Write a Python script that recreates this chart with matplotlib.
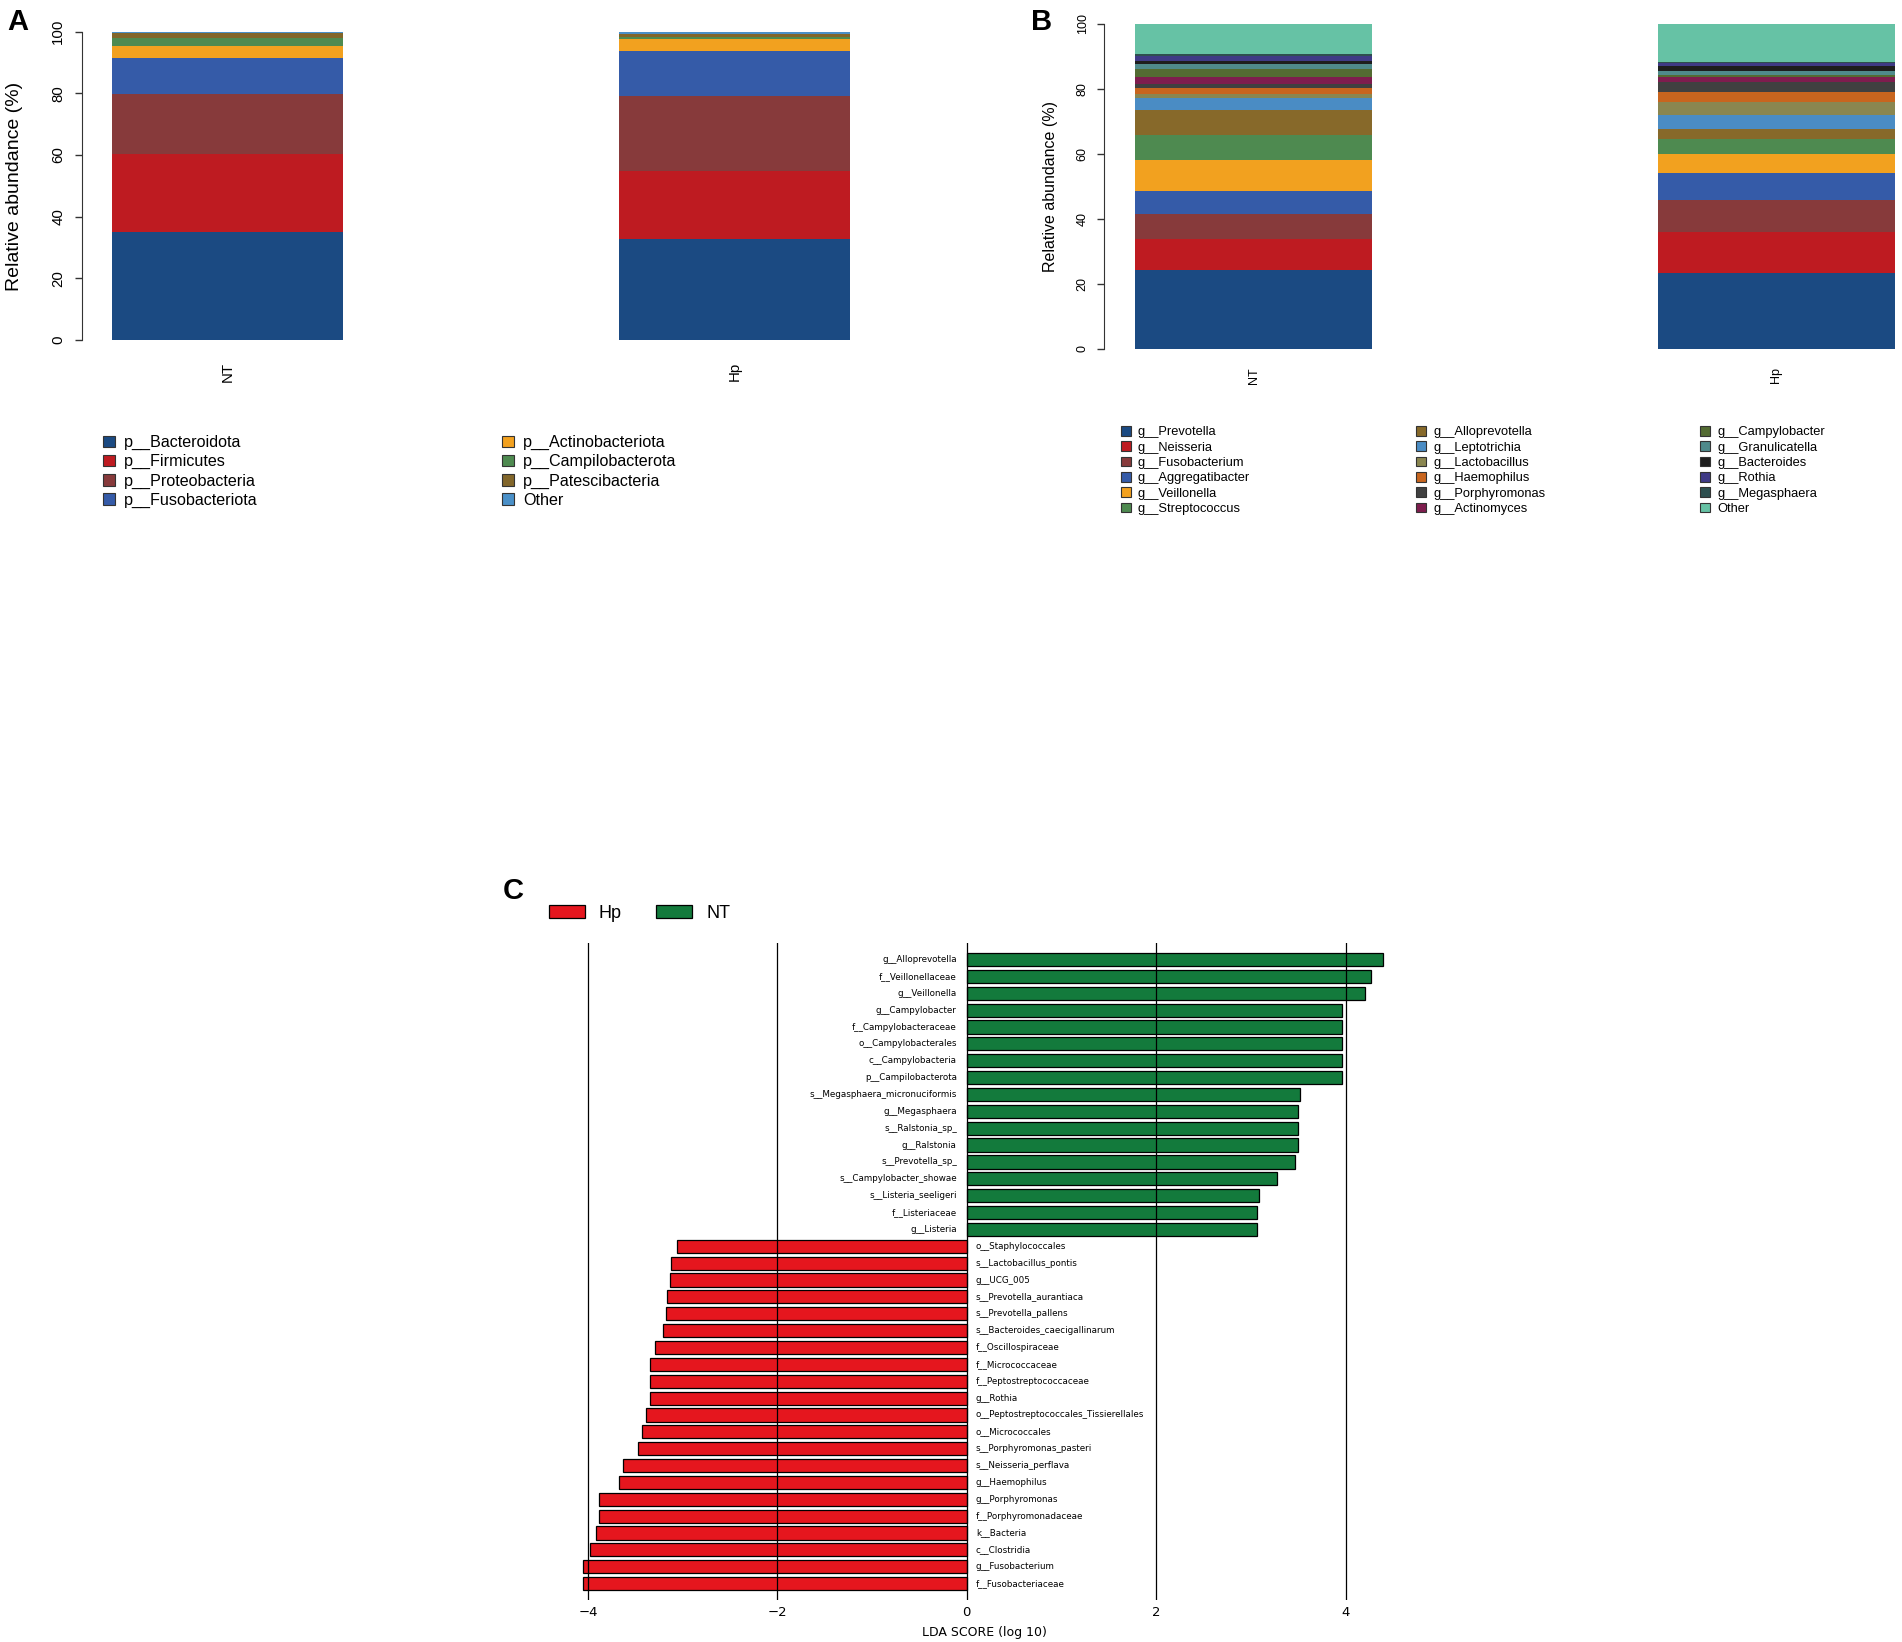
import matplotlib
matplotlib.use("Agg")
import matplotlib.pyplot as plt
from matplotlib.patches import Patch
import matplotlib.transforms as mtransforms
import numpy as np

# ---------------- data ----------------
groups = ["NT", "Hp"]

phyla = ["p__Bacteroidota", "p__Firmicutes", "p__Proteobacteria", "p__Fusobacteriota",
         "p__Actinobacteriota", "p__Campilobacterota", "p__Patescibacteria", "Other"]
phyla_NT = [35.1, 25.1, 19.7, 11.5, 3.8, 2.7, 1.8, 0.3]
phyla_Hp = [32.8, 22.1, 24.2, 14.6, 3.9, 0.6, 1.2, 0.6]
phyla_colors = ["#1B4A82", "#BE1B21", "#873A3B", "#355BA8",
                "#F2A11F", "#4E8A50", "#82662A", "#4A90C8"]

genera = ["g__Prevotella", "g__Neisseria", "g__Fusobacterium", "g__Aggregatibacter",
          "g__Veillonella", "g__Streptococcus", "g__Alloprevotella", "g__Leptotrichia",
          "g__Lactobacillus", "g__Haemophilus", "g__Porphyromonas", "g__Actinomyces",
          "g__Campylobacter", "g__Granulicatella", "g__Bacteroides", "g__Rothia",
          "g__Megasphaera", "Other"]
genera_NT = [24.3, 9.5, 7.6, 7.3, 9.5, 7.7, 7.7, 3.7, 1.2, 1.9, 1.1, 2.3,
             2.4, 1.6, 0.7, 1.6, 0.6, 9.3]
genera_Hp = [23.4, 12.7, 9.8, 8.2, 5.8, 4.8, 2.9, 4.3, 4.2, 3.0, 2.9, 1.8,
             0.6, 1.0, 1.8, 0.9, 0.3, 11.6]
genera_colors = ["#1B4A82", "#BE1B21", "#873A3B", "#355BA8", "#F2A11F", "#4E8A50",
                 "#87692A", "#4A8CC4", "#8A8650", "#C8651E", "#404040", "#7E1D4E",
                 "#536B32", "#4F8A8B", "#1E1E1E", "#3F3A86", "#2E4F4F", "#66C2A5"]

lda_names = ["g__Alloprevotella", "f__Veillonellaceae", "g__Veillonella", "g__Campylobacter",
             "f__Campylobacteraceae", "o__Campylobacterales", "c__Campylobacteria",
             "p__Campilobacterota", "s__Megasphaera_micronuciformis", "g__Megasphaera",
             "s__Ralstonia_sp_", "g__Ralstonia", "s__Prevotella_sp_", "s__Campylobacter_showae",
             "s__Listeria_seeligeri", "f__Listeriaceae", "g__Listeria",
             "o__Staphylococcales", "s__Lactobacillus_pontis", "g__UCG_005",
             "s__Prevotella_aurantiaca", "s__Prevotella_pallens", "s__Bacteroides_caecigallinarum",
             "f__Oscillospiraceae", "f__Micrococcaceae", "f__Peptostreptococcaceae", "g__Rothia",
             "o__Peptostreptococcales_Tissierellales", "o__Micrococcales",
             "s__Porphyromonas_pasteri", "s__Neisseria_perflava", "g__Haemophilus",
             "g__Porphyromonas", "f__Porphyromonadaceae", "k__Bacteria", "c__Clostridia",
             "g__Fusobacterium", "f__Fusobacteriaceae"]
lda_scores = [4.39, 4.27, 4.20, 3.96, 3.96, 3.96, 3.96, 3.96, 3.52, 3.50, 3.50, 3.50,
              3.47, 3.28, 3.08, 3.06, 3.06,
              -3.06, -3.12, -3.13, -3.17, -3.18, -3.21, -3.29, -3.35, -3.35, -3.35,
              -3.39, -3.43, -3.47, -3.63, -3.67, -3.88, -3.88, -3.92, -3.98, -4.05, -4.05]
lda_groups = ["NT"] * 17 + ["Hp"] * 21
lda_colors = {"Hp": "#E5161E", "NT": "#137A3C"}
lda_ticks = [-4, -2, 0, 2, 4]

# ---------------- figure ----------------
W, H = 1902, 1642
fig = plt.figure(figsize=(W / 100, H / 100), dpi=100)
SANS = ["Liberation Sans", "DejaVu Sans"]


def px_axes(left, top, right, bottom):
    return fig.add_axes([left / W, 1 - bottom / H, (right - left) / W, (bottom - top) / H])


def stacked(ax, values_by_group, colors, bar_w):
    x = np.arange(len(groups))
    vals = np.array(values_by_group)  # groups x categories
    bottoms = np.zeros(len(groups))
    for j in range(vals.shape[1]):
        ax.bar(x, vals[:, j], bottom=bottoms, width=bar_w, color=colors[j], linewidth=0)
        bottoms += vals[:, j]
    return x


def style_abund(ax, x, tick_fs, tick_len, tick_pad, xlab_pad):
    ax.set_ylim(0, 100)
    for s in ["top", "right", "bottom"]:
        ax.spines[s].set_visible(False)
    ax.spines["left"].set_bounds(0, 100)
    ax.spines["left"].set_color("#333333")
    ax.set_yticks([0, 20, 40, 60, 80, 100])
    ax.tick_params(axis="y", length=tick_len, width=1, color="#333333", pad=tick_pad,
                   labelsize=tick_fs, labelrotation=90)
    for t in ax.get_yticklabels():
        t.set_fontfamily(SANS)
        t.set_va("center")
    ax.set_xticks(x)
    ax.set_xticklabels(groups, rotation=90, fontsize=tick_fs, family=SANS, va="top")
    ax.tick_params(axis="x", length=0, pad=xlab_pad)


def col_legend(labels, colors, x_px, top_px, fs, pitch_px, sq_px, gap_px):
    fs_px = fs * 100 / 72
    handles = [Patch(facecolor=c, edgecolor="#333333", linewidth=0.8) for c in colors]
    text_h = fs_px * 0.95
    fig.legend(handles, labels, loc="upper left",
               bbox_to_anchor=(x_px / W, 1 - top_px / H), bbox_transform=fig.transFigure,
               frameon=False, borderpad=0, borderaxespad=0,
               handlelength=sq_px / fs_px, handleheight=sq_px / fs_px,
               handletextpad=gap_px / fs_px,
               labelspacing=(pitch_px - text_h) / fs_px,
               prop={"family": SANS, "size": fs})


# ---------------- Panel A ----------------
axA = px_axes(82, 31.7, 880, 340)
xA = stacked(axA, [phyla_NT, phyla_Hp], phyla_colors, 0.455)
axA.set_xlim(-0.287, 1.287)
style_abund(axA, xA, 10.8, 5, 7, 16)
fig.text(15 / W, 1 - 186 / H, "Relative abundance (%)", rotation=90, ha="center",
         va="center", fontsize=14, family=SANS)
fig.text(7 / W, 1 - 8 / H, "A", fontsize=21, fontweight="bold", family=SANS,
         ha="left", va="top")
col_legend(phyla[:4], phyla_colors[:4], 103, 435, 11.6, 19.4, 12, 9)
col_legend(phyla[4:], phyla_colors[4:], 502, 435, 11.6, 19.4, 12, 9)

# ---------------- Panel B ----------------
axB = px_axes(1104, 24, 1902, 349)
xB = stacked(axB, [genera_NT, genera_Hp], genera_colors, 0.453)
axB.set_xlim(-0.2864, 1.2403)
style_abund(axB, xB, 9, 5, 6, 13)
fig.text(1050 / W, 1 - 186 / H, "Relative abundance (%)", rotation=90, ha="center",
         va="center", fontsize=11.5, family=SANS)
fig.text(1031 / W, 1 - 8 / H, "B", fontsize=21, fontweight="bold", family=SANS,
         ha="left", va="top")
for k, xpx in enumerate([1121, 1416, 1700]):
    col_legend(genera[6 * k:6 * k + 6], genera_colors[6 * k:6 * k + 6],
               xpx, 426, 9.3, 15.3, 10, 7)

# ---------------- Panel C ----------------
axC = px_axes(540.6, 943, 1393, 1600)
yC = np.arange(len(lda_names))
bar_cols = [lda_colors[g] for g in lda_groups]
axC.barh(yC, lda_scores, height=0.78, color=bar_cols, edgecolor="black", linewidth=0.9,
         zorder=1)
axC.set_xlim(-4.5, 4.5)
axC.set_ylim(len(lda_names) - 0.03, -0.98)
axC.set_xticks(lda_ticks)
axC.set_xticklabels(["\u2212" + str(abs(t)) if t < 0 else str(t) for t in lda_ticks])
axC.set_yticks([])
axC.set_axisbelow(False)
axC.grid(axis="x", color="black", linewidth=0.9, zorder=3)
axC.tick_params(axis="x", length=0, pad=4, labelsize=9.5)
for s in axC.spines.values():
    s.set_visible(False)
axC.set_xlabel("LDA SCORE (log 10)", fontsize=9)
axC.xaxis.set_label_coords((984 - 540.6) / (1393 - 540.6), -(1626 - 1600) / (1600 - 943))

left_tr = mtransforms.offset_copy(axC.transData, fig=fig, x=-10, y=0, units="dots")
right_tr = mtransforms.offset_copy(axC.transData, fig=fig, x=9, y=0, units="dots")
for yi, name, sc in zip(yC, lda_names, lda_scores):
    if sc > 0:
        axC.text(0, yi, name, transform=left_tr, ha="right", va="center", fontsize=6.3)
    else:
        axC.text(0, yi, name, transform=right_tr, ha="left", va="center", fontsize=6.3)

legC_handles = [Patch(facecolor=lda_colors[g], edgecolor="black", linewidth=0.9)
                for g in ["Hp", "NT"]]
fsC = 13
fsC_px = fsC * 100 / 72
fig.legend(legC_handles, ["Hp", "NT"], ncol=2, loc="upper left",
           bbox_to_anchor=(549 / W, 1 - 905 / H), bbox_transform=fig.transFigure,
           frameon=False, borderpad=0, borderaxespad=0,
           handlelength=36 / fsC_px, handleheight=13 / fsC_px,
           handletextpad=14 / fsC_px, columnspacing=34 / fsC_px,
           prop={"family": SANS, "size": fsC})
fig.text(503 / W, 1 - 877 / H, "C", fontsize=21, fontweight="bold", family=SANS,
         ha="left", va="top")

fig.savefig("out.png", dpi=100)
